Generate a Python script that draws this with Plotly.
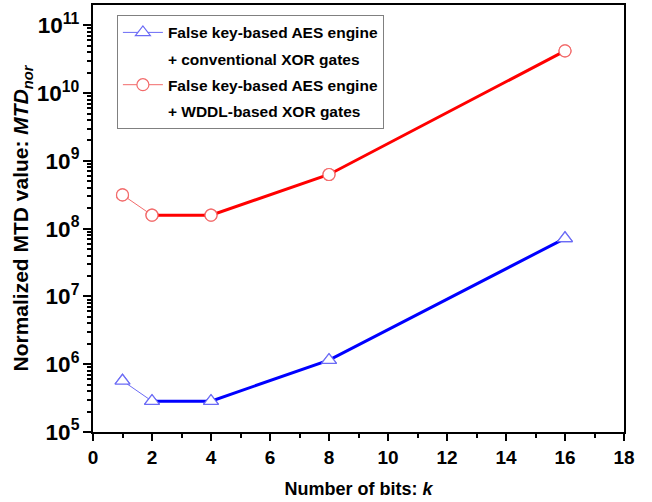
import plotly.graph_objects as go

# Number of bits k and normalized MTD values for the two designs
bits = [1, 2, 4, 8, 16]
mtd_conventional = [5.7e5, 2.85e5, 2.85e5, 1.15e6, 7.2e7]
mtd_wddl = [3.15e8, 1.58e8, 1.58e8, 6.3e8, 4.2e10]

legend_lines = [
    "False key-based AES engine",
    "+ conventional XOR gates",
    "False key-based AES engine",
    "+ WDDL-based XOR gates",
]

BLUE_DARK, BLUE_LIGHT = "#0000ff", "#6b6bf5"
RED_DARK, RED_LIGHT = "#ff0000", "#f26b6b"
FONT = "Liberation Sans, Arial, sans-serif"

fig = go.Figure()

# Thin light connecting lines (these carry the legend entries)
fig.add_trace(go.Scatter(
    x=bits, y=mtd_conventional, mode="lines+markers", name=legend_lines[0],
    legendgroup="a",
    line=dict(color=BLUE_LIGHT, width=1),
    marker=dict(symbol="triangle-up", size=13, color="white",
                line=dict(color=BLUE_LIGHT, width=1.2)),
))
fig.add_trace(go.Scatter(
    x=[None], y=[None], mode="lines", name=legend_lines[1], legendgroup="b",
    line=dict(color="rgba(0,0,0,0)", width=0), showlegend=True,
))
fig.add_trace(go.Scatter(
    x=bits, y=mtd_wddl, mode="lines+markers", name=legend_lines[2],
    legendgroup="c",
    line=dict(color=RED_LIGHT, width=1),
    marker=dict(symbol="circle", size=12, color="white",
                line=dict(color=RED_LIGHT, width=1.2)),
))
fig.add_trace(go.Scatter(
    x=[None], y=[None], mode="lines", name=legend_lines[3], legendgroup="d",
    line=dict(color="rgba(0,0,0,0)", width=0), showlegend=True,
))

# Thick segments from k = 2 onward
fig.add_trace(go.Scatter(x=bits[1:], y=mtd_conventional[1:], mode="lines",
                         line=dict(color=BLUE_DARK, width=3), showlegend=False))
fig.add_trace(go.Scatter(x=bits[1:], y=mtd_wddl[1:], mode="lines",
                         line=dict(color=RED_DARK, width=3), showlegend=False))

# Open markers on top of everything
fig.add_trace(go.Scatter(
    x=bits, y=mtd_conventional, mode="markers", showlegend=False,
    marker=dict(symbol="triangle-up", size=13, color="white",
                line=dict(color=BLUE_LIGHT, width=1.2)),
))
fig.add_trace(go.Scatter(
    x=bits, y=mtd_wddl, mode="markers", showlegend=False,
    marker=dict(symbol="circle", size=12, color="white",
                line=dict(color=RED_LIGHT, width=1.2)),
))

fig.update_layout(
    width=652, height=502,
    margin=dict(l=93, r=28, t=3, b=70),
    paper_bgcolor="white", plot_bgcolor="white",
    font=dict(family=FONT, color="black"),
    legend=dict(
        x=0.045, y=0.977, xanchor="left", yanchor="top",
        bgcolor="white", bordercolor="#808080", borderwidth=1,
        font=dict(family=FONT, size=15.5, weight="bold", color="black"),
        traceorder="grouped", tracegroupgap=3,
        itemwidth=40,
    ),
)

fig.update_xaxes(
    range=[0, 18], tickmode="linear", tick0=0, dtick=2,
    showline=True, linewidth=2, linecolor="black", mirror=True,
    ticks="outside", ticklen=7, tickwidth=2, tickcolor="black",
    minor=dict(dtick=1, ticks="outside", ticklen=4, tickwidth=2, tickcolor="black"),
    showgrid=False, zeroline=False,
    tickfont=dict(family=FONT, size=19, weight="bold"),
    title=dict(text="Number of bits: <i>k</i>",
               font=dict(family=FONT, size=18, weight="bold"), standoff=16),
)

fig.update_yaxes(
    type="log", range=[5, 11.3], dtick=1, exponentformat="power",
    showline=True, linewidth=2, linecolor="black", mirror=True,
    ticks="outside", ticklen=8, tickwidth=2, tickcolor="black",
    minor=dict(dtick="D1", ticks="outside", ticklen=4, tickwidth=1.5, tickcolor="black"),
    showgrid=False, zeroline=False,
    tickfont=dict(family=FONT, size=18, weight="bold"),
    title=dict(text="Normalized MTD value: <i>MTD</i><sub><i>nor</i></sub>",
               font=dict(family=FONT, size=21, weight="bold"), standoff=2),
)

fig.write_html("out.html")
